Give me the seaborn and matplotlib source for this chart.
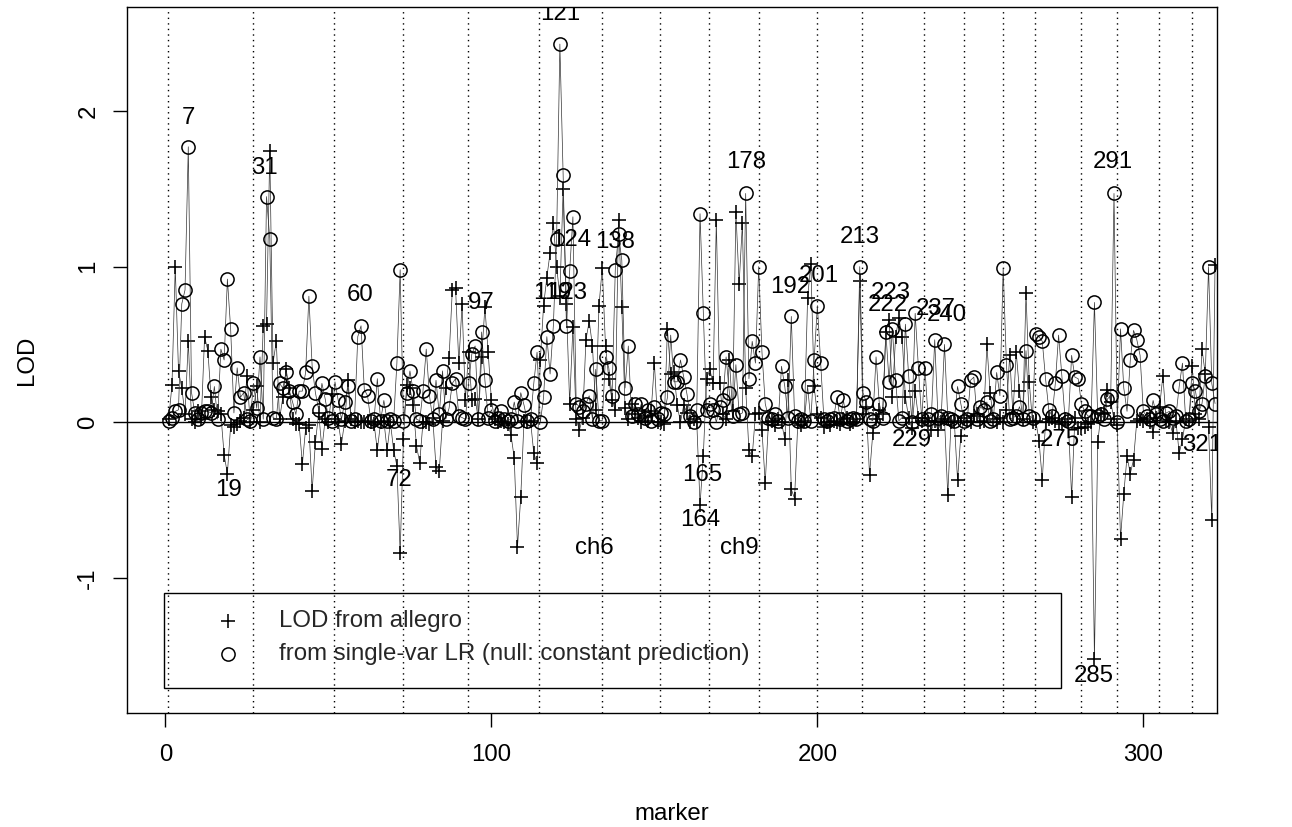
import matplotlib
matplotlib.use("Agg")
import matplotlib.pyplot as plt
import seaborn as sns
import pandas as pd
from matplotlib.patches import Rectangle

# LOD from single-var LR (circles), markers 1..322
lod_lr = [
    0.01, 0.03, 0.07, 0.08, 0.76, 0.85, 1.77, 0.19, 0.06, 0.02,
    0.06, 0.07, 0.07, 0.06, 0.23, 0.02, 0.47, 0.40, 0.92, 0.60,
    0.06, 0.35, 0.16, 0.19, 0.02, 0.01, 0.25, 0.09, 0.42, 0.02,
    1.45, 1.18, 0.03, 0.02, 0.25, 0.22, 0.32, 0.20, 0.13, 0.05,
    0.20, 0.20, 0.32, 0.81, 0.36, 0.19, 0.08, 0.25, 0.15, 0.03,
    0.01, 0.26, 0.14, 0.02, 0.13, 0.23, 0.01, 0.02, 0.55, 0.62,
    0.21, 0.17, 0.01, 0.02, 0.28, 0.01, 0.14, 0.01, 0.02, 0.01,
    0.38, 0.98, 0.01, 0.19, 0.33, 0.20, 0.02, 0.01, 0.20, 0.47,
    0.17, 0.02, 0.27, 0.05, 0.33, 0.02, 0.09, 0.25, 0.28, 0.04,
    0.03, 0.02, 0.25, 0.44, 0.49, 0.02, 0.58, 0.27, 0.03, 0.08,
    0.01, 0.03, 0.07, 0.02, 0.01, 0.02, 0.13, 0.01, 0.19, 0.11,
    0.01, 0.02, 0.25, 0.45, 0.00, 0.16, 0.55, 0.31, 0.62, 1.18,
    2.43, 1.59, 0.62, 0.97, 1.32, 0.12, 0.10, 0.07, 0.12, 0.17,
    0.02, 0.34, 0.01, 0.01, 0.42, 0.35, 0.17, 0.98, 1.21, 1.04,
    0.22, 0.49, 0.04, 0.12, 0.05, 0.12, 0.03, 0.08, 0.01, 0.10,
    0.02, 0.06, 0.05, 0.16, 0.56, 0.26, 0.26, 0.40, 0.29, 0.18,
    0.04, 0.00, 0.08, 1.34, 0.70, 0.08, 0.12, 0.08, 0.00, 0.10,
    0.14, 0.42, 0.19, 0.04, 0.37, 0.05, 0.06, 1.47, 0.28, 0.52,
    0.38, 1.00, 0.45, 0.12, 0.03, 0.02, 0.05, 0.01, 0.36, 0.23,
    0.03, 0.68, 0.04, 0.01, 0.02, 0.01, 0.23, 0.01, 0.40, 0.75,
    0.38, 0.02, 0.01, 0.02, 0.03, 0.16, 0.02, 0.14, 0.01, 0.02,
    0.03, 0.02, 1.00, 0.19, 0.13, 0.02, 0.01, 0.42, 0.12, 0.03,
    0.58, 0.26, 0.60, 0.27, 0.01, 0.03, 0.63, 0.30, 0.00, 0.70,
    0.35, 0.02, 0.35, 0.02, 0.05, 0.53, 0.03, 0.04, 0.50, 0.03,
    0.02, 0.01, 0.23, 0.12, 0.01, 0.02, 0.27, 0.29, 0.02, 0.10,
    0.08, 0.13, 0.01, 0.02, 0.32, 0.17, 0.99, 0.37, 0.02, 0.03,
    0.04, 0.10, 0.02, 0.46, 0.04, 0.03, 0.57, 0.55, 0.52, 0.28,
    0.08, 0.04, 0.25, 0.56, 0.30, 0.02, 0.01, 0.43, 0.29, 0.28,
    0.12, 0.07, 0.04, 0.04, 0.77, 0.04, 0.05, 0.02, 0.15, 0.17,
    1.47, 0.00, 0.60, 0.22, 0.07, 0.40, 0.59, 0.53, 0.43, 0.07,
    0.04, 0.02, 0.14, 0.05, 0.02, 0.01, 0.06, 0.07, 0.03, 0.04,
    0.23, 0.38, 0.01, 0.02, 0.25, 0.20, 0.07, 0.12, 0.30, 1.00,
    0.25, 0.12,
]

# LOD from allegro (plus signs)
lod_allegro = [
    0.02, 0.24, 1.00, 0.33, 0.22, 0.05, 0.52, 0.02, 0.00, 0.07,
    0.02, 0.55, 0.46, 0.16, 0.08, 0.07, 0.05, -0.21, -0.33, -0.02,
    -0.03, -0.01, 0.01, 0.03, 0.30, 0.00, 0.08, 0.23, 0.00, 0.62,
    0.63, 1.74, 0.38, 0.52, 0.02, 0.16, 0.34, 0.22, 0.02, -0.01,
    -0.01, -0.27, -0.04, -0.02, -0.44, -0.13, 0.06, -0.17, 0.02, 0.00,
    0.18, 0.02, 0.00, -0.14, 0.01, 0.27, 0.02, 0.00, 0.01, 0.00,
    0.00, 0.01, 0.00, -0.01, -0.18, 0.00, 0.01, -0.18, 0.00, -0.18,
    -0.28, -0.84, -0.11, 0.24, 0.22, 0.11, -0.15, -0.26, 0.00, 0.00,
    -0.01, 0.03, -0.29, -0.31, 0.01, 0.22, 0.41, 0.85, 0.86, 0.38,
    0.76, 0.14, 0.45, 0.14, 0.15, 0.02, 0.42, 0.74, 0.45, 0.14,
    0.02, 0.00, 0.01, 0.00, -0.01, -0.08, -0.23, -0.80, -0.48, 0.01,
    0.00, 0.01, -0.20, -0.26, 0.40, 0.75, 0.93, 1.09, 1.28, 1.00,
    0.81, 1.50, 0.76, 0.12, 0.61, 0.02, -0.05, 0.03, 0.53, 0.65,
    0.49, 0.08, 0.75, 0.99, 0.49, 0.28, 0.14, 0.08, 1.30, 0.74,
    0.09, 0.02, 0.12, 0.05, 0.03, 0.00, 0.04, 0.01, 0.07, 0.38,
    0.00, 0.00, -0.01, 0.60, 0.31, 0.32, 0.11, 0.00, 0.11, 0.06,
    0.00, 0.02, 0.00, -0.53, -0.22, 0.28, 0.34, 0.25, 1.30, 0.25,
    0.05, 0.02, 0.40, 0.07, 1.35, 0.89, 1.28, 0.22, -0.18, -0.22,
    0.05, 0.06, -0.05, -0.39, 0.00, 0.01, -0.02, 0.02, 0.00, -0.11,
    0.27, -0.43, -0.49, 0.00, -0.02, 0.01, 0.80, 1.02, 0.23, 0.05,
    0.03, -0.03, 0.00, -0.02, 0.01, 0.00, -0.01, 0.02, 0.03, -0.01,
    0.00, 0.02, 0.91, 0.05, 0.10, -0.34, -0.07, 0.02, 0.08, 0.05,
    0.58, 0.66, 0.16, 0.55, 0.67, 0.55, 0.16, 0.03, -0.04, 0.20,
    0.03, 0.01, 0.03, 0.00, -0.05, 0.01, -0.05, 0.00, 0.02, -0.47,
    0.00, 0.01, -0.37, -0.09, 0.03, 0.01, 0.00, 0.04, 0.05, 0.00,
    0.01, 0.50, 0.19, 0.02, 0.00, 0.03, 0.00, 0.08, 0.43, 0.05,
    0.45, 0.20, 0.02, 0.83, 0.26, 0.00, 0.01, -0.12, -0.37, 0.00,
    0.02, 0.03, 0.01, 0.00, -0.01, 0.02, 0.00, -0.48, 0.03, -0.04,
    -0.04, -0.03, -0.01, 0.00, -1.52, -0.13, 0.05, 0.06, 0.21, 0.13,
    0.02, -0.02, -0.75, -0.46, -0.22, -0.33, -0.24, 0.01, 0.02, 0.01,
    0.02, 0.00, -0.06, 0.03, 0.10, 0.30, 0.01, 0.00, -0.07, 0.01,
    -0.20, -0.11, 0.02, 0.01, 0.36, 0.05, 0.02, 0.47, 0.31, -0.03,
    -0.63, 1.01,
]

markers = list(range(1, len(lod_lr) + 1))

# chromosome boundaries (dotted vertical lines)
chrom_bounds = [0.64, 27.0, 51.8, 73.0, 92.9, 114.7, 134.0, 151.8, 166.8,
                182.0, 199.9, 213.6, 232.7, 244.9, 257.1, 266.9, 280.9,
                291.8, 304.8, 314.9]

# marker-number annotations (text, x, y of text centre)
ann_text = ["7", "19", "31", "60", "72", "97", "121", "124", "138", "119", "123",
            "164", "165", "178", "192", "201", "213", "222", "223", "237", "240",
            "229", "275", "285", "291", "321", "ch6", "ch9"]
ann_x = [6.9, 19.2, 30.5, 59.7, 71.6, 96.8, 121.0, 124.6, 137.8, 118.8, 123.1,
         163.9, 164.8, 178.0, 191.8, 200.4, 212.9, 221.5, 222.5, 236.3, 239.7,
         228.9, 274.3, 284.7, 290.5, 318.1, 131.7, 176.1]
ann_y = [1.955, -0.437, 1.633, 0.817, -0.373, 0.765, 2.624, 1.17, 1.158, 0.83, 0.83,
         -0.63, -0.341, 1.672, 0.868, 0.939, 1.19, 0.755, 0.83, 0.73, 0.69,
         -0.116, -0.116, -1.633, 1.672, -0.148, -0.81, -0.81]

legend_labels = ["LOD from allegro", "from single-var LR (null: constant prediction)"]

sns.set_theme(style="white")
plt.rcParams['font.family'] = ['Liberation Sans', 'DejaVu Sans']
FS = 17.3

df = pd.DataFrame({"marker": markers, "allegro": lod_allegro, "lr": lod_lr})

fig = plt.figure(figsize=(12.92, 8.27), dpi=100)
W, H = 1292, 827
ax = fig.add_axes([127 / W, (H - 713) / H, (1217 - 127) / W, (713 - 7) / H])
ax.set_facecolor("white")

for b in chrom_bounds:
    ax.axvline(b, color="black", lw=1.0, linestyle=(0, (1, 3)), zorder=1)
ax.axhline(0, color="black", lw=1.0, zorder=1)

sns.lineplot(data=df, x="marker", y="allegro", ax=ax, color="#333333",
             linewidth=0.5, marker="+", markersize=10, markeredgewidth=1.15,
             markeredgecolor="black", estimator=None, sort=False, zorder=3)
sns.lineplot(data=df, x="marker", y="lr", ax=ax, color="#333333",
             linewidth=0.5, marker="o", markersize=9.5, markerfacecolor="none",
             markeredgecolor="black", markeredgewidth=1.1, estimator=None,
             sort=False, zorder=3)

for t, x, y in zip(ann_text, ann_x, ann_y):
    ax.text(x, y, t, ha="center", va="center", fontsize=FS, color="black",
            clip_on=True, zorder=4)

# legend box
ax.add_patch(Rectangle((-0.43, -1.71), 275.3, 0.61, fill=False,
                       edgecolor="black", lw=1.0, zorder=5))
ax.plot([19.2], [-1.28], marker="+", color="black", markersize=10,
        markeredgewidth=1.15, linestyle="none", zorder=5)
ax.plot([19.2], [-1.49], marker="o", markerfacecolor="none",
        markeredgecolor="black", markersize=9.5, markeredgewidth=1.1,
        linestyle="none", zorder=5)
ax.text(34.9, -1.28, legend_labels[0], ha="left", va="center", fontsize=FS, zorder=5)
ax.text(34.9, -1.49, legend_labels[1], ha="left", va="center", fontsize=FS, zorder=5)

ax.set_xlim(-11.8, 322.6)
ax.set_ylim(-1.868, 2.668)
ax.set_xticks([0, 100, 200, 300])
ax.set_yticks([-1, 0, 1, 2])
ax.set_yticklabels(["-1", "0", "1", "2"], rotation=90, va="center")
ax.tick_params(axis="both", which="both", bottom=True, left=True, direction="out",
               length=10.4, width=1.0, labelsize=FS, colors="black")
ax.tick_params(axis="x", pad=12)
ax.tick_params(axis="y", pad=9.5)
for s in ax.spines.values():
    s.set_visible(True)
    s.set_color("black")
    s.set_linewidth(1.0)

ax.set_xlabel("marker", fontsize=FS, color="black", va="top")
ax.xaxis.set_label_coords(0.5, (713 - 803) / 706)
ax.set_ylabel("LOD", fontsize=FS, color="black")
ax.yaxis.set_label_coords((38 - 127) / 1090, 0.5)

fig.savefig("out.png", dpi=100, facecolor="white")
